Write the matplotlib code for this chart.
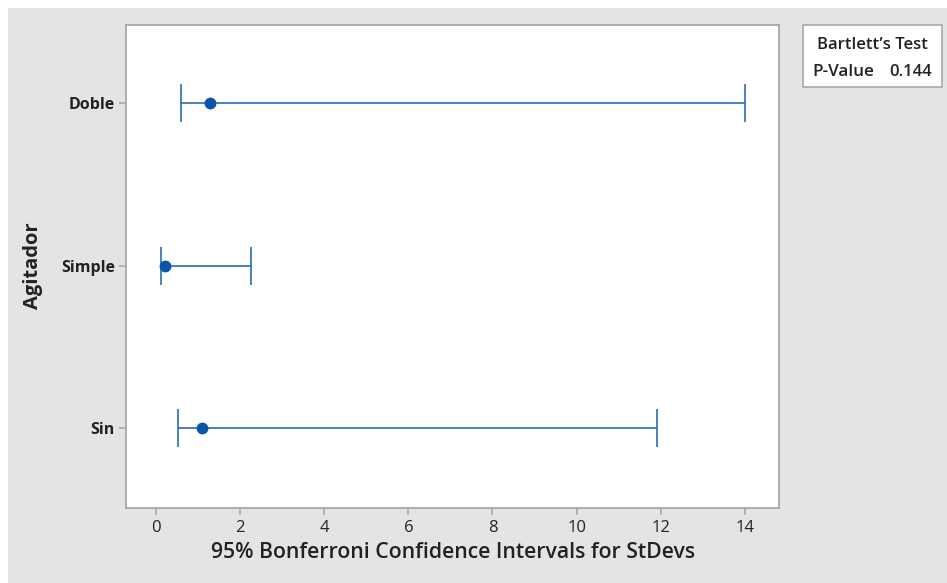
import matplotlib
matplotlib.use("Agg")
import matplotlib.pyplot as plt
from matplotlib.patches import Rectangle

categories = ["Sin", "Simple", "Doble"]
stdev = [1.09, 0.21, 1.28]
lower = [0.52, 0.12, 0.59]
upper = [11.91, 2.26, 14.0]
xticks = [0, 2, 4, 6, 8, 10, 12, 14]
p_value = "0.144"

plt.rcParams['font.family'] = ['Open Sans', 'DejaVu Sans']

W, H = 947, 583
fig = plt.figure(figsize=(W / 100, H / 100), dpi=100)
fig.patch.set_facecolor("white")
bg = Rectangle((8 / W, 0), 1, (H - 8) / H, transform=fig.transFigure,
               facecolor="#e4e4e4", edgecolor="none", zorder=-10)
fig.patches.append(bg)

ax = fig.add_axes([126 / W, 75 / H, (779 - 126) / W, (508 - 25) / H])
ax.set_zorder(1)
ax.set_facecolor("white")
ypos = list(range(1, len(categories) + 1))
xerr = [[s - l for s, l in zip(stdev, lower)], [u - s for s, u in zip(stdev, upper)]]
ax.errorbar(stdev, ypos, xerr=xerr, fmt="o", color="#0a56a8", ecolor="#2a6db5",
            elinewidth=1.2, capsize=13.6, capthick=1.2, markersize=7.5, zorder=3)

ax.set_xlim(-0.71, 14.81)
ax.set_ylim(0.51, 3.48)
ax.set_yticks(ypos)
ax.set_yticklabels(categories, fontsize=11.5, fontweight="bold", color="#222222")
ax.set_xticks(xticks)
ax.set_xticklabels([str(t) for t in xticks], fontsize=12, color="#222222")
for s in ax.spines.values():
    s.set_color("#a8a8a8")
    s.set_linewidth(1.3)
ax.tick_params(axis="both", color="#a8a8a8", length=5, width=1.2)
ax.tick_params(axis="x", pad=4)
ax.tick_params(axis="y", pad=3)

fig.text(33 / W, 1 - 266 / H, "Agitador", rotation=90, ha="center", va="center",
         fontsize=14.5, fontweight="bold", color="#222222")
fig.text(453 / W, 1 - 552 / H, "95% Bonferroni Confidence Intervals for StDevs",
         ha="center", va="center", fontsize=15.3, fontweight="semibold", color="#222222")

# Bartlett box
fig.patches.append(Rectangle((803 / W, 1 - 87 / H), (942 - 803) / W, (87 - 25) / H,
                             transform=fig.transFigure, facecolor="white",
                             edgecolor="#a8a8a8", linewidth=1.2, zorder=2))
fig.text(872 / W, 1 - 45 / H, "Bartlett\u2019s Test", ha="center", va="center",
         fontsize=12, fontweight="semibold", color="#222222", zorder=3)
fig.text(812 / W, 1 - 72 / H, "P-Value", ha="left", va="center",
         fontsize=12.3, fontweight="semibold", color="#222222", zorder=3)
fig.text(932 / W, 1 - 72 / H, p_value, ha="right", va="center",
         fontsize=12, fontweight="semibold", color="#222222", zorder=3)

fig.savefig("out.png", dpi=100)
